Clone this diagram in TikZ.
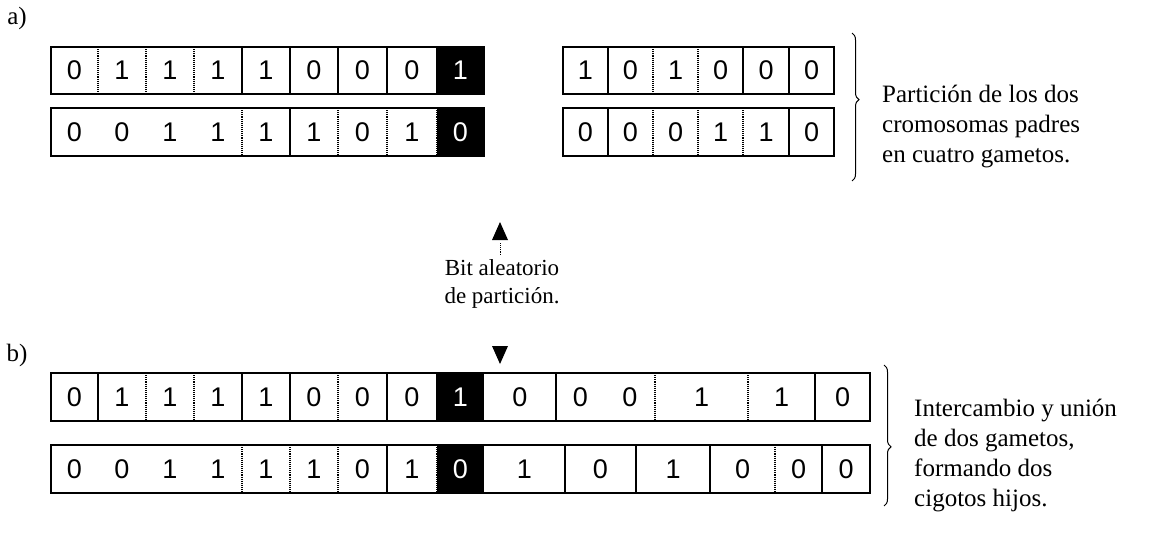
\documentclass[tikz,border=0pt]{standalone}
\usepackage{fontspec}
\setmainfont{Liberation Serif}
\newfontfamily\digitfont{Liberation Sans}
\usetikzlibrary{decorations.pathreplacing}
\begin{document}
\begin{tikzpicture}[x=1pt,y=-1pt,
  cellbox/.style={draw,line width=1.4pt},
  solidsep/.style={line width=1.2pt},
  dotsep/.style={line width=1.1pt,densely dotted},
  bitnum/.style={font=\digitfont\fontsize{27}{27}\selectfont,inner sep=0pt},
  caption/.style={font=\fontsize{25}{30}\selectfont,align=left,anchor=west,inner sep=0pt},
  tag/.style={font=\fontsize{25}{25}\selectfont,inner sep=0pt},
  tri/.style={fill=black,draw=none},
  bracestyle/.style={line width=1pt,decorate,decoration={brace,amplitude=7pt}}]
\useasboundingbox (0,0) rectangle (1159,538);
\def\kb{b}\def\kd{d}\def\kl{l}
% one row of bits: #1 name, #2 left x, #3 top y, #4 bottom y,
% #5 list of  right-edge / bit / separator (b = black cell, d = dotted, l = line, n = none)
\newcommand{\bitrow}[5]{%
  \foreach \e/\b/\s [remember=\e as \prev (initially #2)] in {#5} {
    \ifx\s\kb
      \fill (\prev,#3) rectangle (\e,#4);
      \node[bitnum,text=white] (#1-\e) at ({(\prev+\e)/2},{(#3+#4)/2}) {\b};
    \else
      \node[bitnum] (#1-\e) at ({(\prev+\e)/2},{(#3+#4)/2}) {\b};
    \fi
    \ifx\s\kd \draw[dotsep] (\e,#3) -- (\e,#4); \fi
    \ifx\s\kl \draw[solidsep] (\e,#3) -- (\e,#4); \fi
  }%
}
% framed row: #5 = right x of the frame, #6 = cell list
\newcommand{\bitbox}[6]{%
  \draw[cellbox] (#2,#3) rectangle (#5,#4);
  \bitrow{#1}{#2}{#3}{#4}{#6}%
}
% ---------------- a) ----------------
\node[tag] (la) at (17,18) {a)};
% first parent: left and right gametes
\bitbox{aa}{51}{47}{94}{484}{98/0/d,146/1/d,194/1/d,242/1/l,290/1/l,338/0/l,387/0/l,437/0/l,484/1/b}
\bitbox{ab}{563}{47}{94}{834}{608/1/l,653/0/d,698/1/d,743/0/l,789/0/l,834/0/n}
% second parent: left and right gametes
\bitbox{ac}{51}{108}{156}{484}{98/0/n,146/0/n,194/1/n,242/1/d,290/1/l,338/1/d,387/0/d,437/1/d,484/0/b}
\bitbox{ad}{563}{108}{156}{834}{608/0/l,653/0/d,698/0/d,743/1/d,789/1/l,834/0/n}
% brace and caption
\coordinate (braTop) at (852,33);
\coordinate (braBot) at (852,181);
\draw[bracestyle,decoration={aspect=0.45}] (braTop) -- (braBot);
\node[caption] (ta) at (882,127) {Partición de los dos\\cromosomas padres\\en cuatro gametos.};
% ---------------- random crossover bit ----------------
\coordinate (upTip) at (500,222);
\fill[tri] (upTip) -- ++(-8,18) -- ++(16,0) -- cycle;
\draw[dotsep,line width=0.8pt] (500,243) -- (500,254);
\node[font=\fontsize{23}{28}\selectfont,align=center,inner sep=0pt] (tb) at (502,284)
  {Bit aleatorio\\de partición.};
\coordinate (dnTip) at (500,364);
\fill[tri] (dnTip) -- ++(-8,-18) -- ++(16,0) -- cycle;
% ---------------- b) ----------------
\node[tag] (lb) at (17,355) {b)};
% first child
\bitbox{ba}{51}{373}{421}{870}{98/0/l,146/1/d,194/1/d,242/1/l,290/1/l,338/0/d,387/0/l,437/0/l,484/1/b,556/0/l,605/0/n,655/0/d,748/1/d,815/1/l,870/0/n}
% second child
\bitbox{bb}{51}{445}{493}{870}{98/0/n,146/0/n,194/1/n,242/1/d,290/1/d,338/1/d,387/0/l,437/1/d,484/0/b,565/1/l,636/0/l,710/1/l,775/0/d,822/0/l,870/0/n}
% brace and caption
\coordinate (brbTop) at (884,365);
\coordinate (brbBot) at (884,506);
\draw[bracestyle,decoration={aspect=0.58}] (brbTop) -- (brbBot);
\node[caption] (tc) at (914,455) {Intercambio y unión\\de dos gametos,\\formando dos\\cigotos hijos.};
\end{tikzpicture}
\end{document}
